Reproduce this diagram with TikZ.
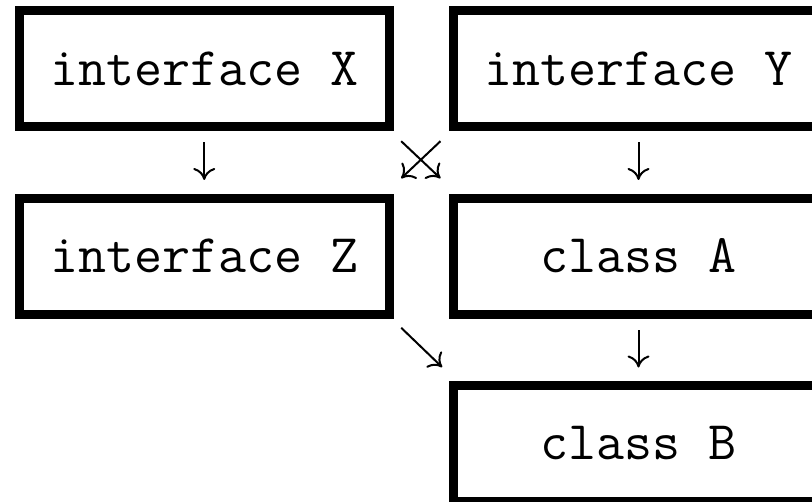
\documentclass[tikz,border=0pt]{standalone}
\usepackage{tikz}
\usetikzlibrary{arrows.meta}

\begin{document}
\begin{tikzpicture}[->,>={To[length=6pt,width=11pt]},line width=1pt,
      x=0.5pt,y=-0.5pt,node distance=93.75pt,
      box/.style={draw,line width=4.5pt,minimum width=184.75pt,minimum height=58pt,
        font=\fontsize{27.2pt}{32pt}\selectfont\ttfamily},
      gap/.style={shorten <=5.75pt,shorten >=6.75pt}]

    \useasboundingbox (0,0) rectangle (812,502);

    \node[box] (X) at (204.25,68.5) {interface X};
    \node[box] (Y) [right of=X,node distance=217.125pt] {interface Y};
    \node[box] (Z) [below of=X] {interface Z};
    \node[box] (A) [below of=Y] {class A};
    \node[box] (B) [below of=A] {class B};

    \path (X) edge [gap] (Z)
    (Y) edge [gap] (A)
    (A) edge [gap] (B)
    ([shift={(7.7,10.2)}]X.south east) edge ([shift={(-8.8,-15.2)}]A.north west)
    ([shift={(-8.8,10.2)}]Y.south west) edge ([shift={(7.7,-15.2)}]Z.north east)
    ([shift={(7.7,9.3)}]Z.south east) edge ([shift={(-7.1,-13.8)}]B.north west);

    \end{tikzpicture}
\end{document}
